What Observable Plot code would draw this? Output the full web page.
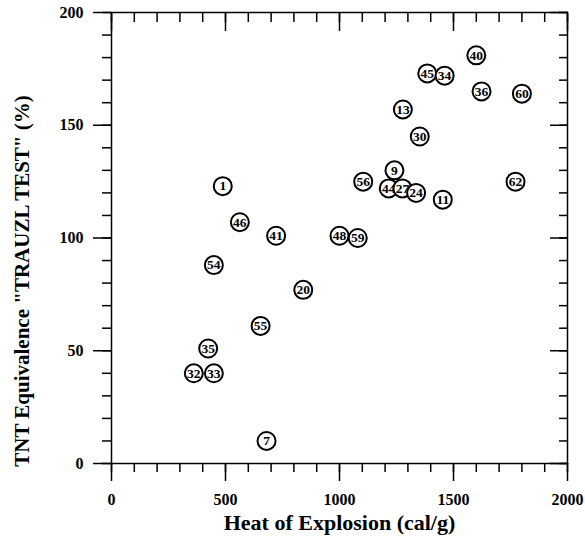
<!DOCTYPE html>
<html><head><meta charset="utf-8">
<script src="https://cdn.jsdelivr.net/npm/d3@7"></script>
<script src="https://cdn.jsdelivr.net/npm/@observablehq/plot@0.6"></script>
<style>
html,body{margin:0;padding:0;background:#fff;}
</style></head><body><div id="chart"></div>
<script>
const labels = ["1","46","41","54","20","55","35","32","33","7","48","59","56","44","9","27","24","11","30","13","45","34","40","36","60","62"];
const heat   = [488,563,722,449,841,654,424,361,449,680,1000,1080,1104,1216,1241,1276,1336,1453,1352,1278,1385,1461,1600,1623,1800,1772];
const tnt    = [123,107,101,88,77,61,51,40,40,10,101,100,125,122,130,122,120,117,145,157,173,172,181,165,164,125];

const xMajor = [0, 500, 1000, 1500, 2000];
const xMinor = d3.range(0, 2001, 100);
const yMajor = [0, 50, 100, 150, 200];
const yMinor = d3.range(0, 201, 10);
const xTitle = "Heat of Explosion (cal/g)";
const yTitle = "TNT Equivalence \"TRAUZL TEST\" (%)";

const serif = "'Liberation Serif', 'Times New Roman', serif";
const blank = () => "";
const plain = d => String(d);

const order = d3.range(labels.length).sort((a, b) => heat[a] - heat[b]);
const pointMarks = order.flatMap(i => [
  Plot.dot([i], {x: j => heat[j], y: j => tnt[j], r: 9, fill: "white", stroke: "black", strokeWidth: 2}),
  Plot.text([i], {x: j => heat[j], y: j => tnt[j], text: j => labels[j], fontSize: 13.5, fontWeight: "bold", fill: "black"})
]);

const chart = Plot.plot({
  width: 585,
  height: 540,
  marginLeft: 111,
  marginRight: 18,
  marginTop: 12,
  marginBottom: 77,
  style: {fontFamily: serif, background: "white", color: "black"},
  x: {domain: [0, 2000]},
  y: {domain: [0, 200]},
  marks: [
    Plot.frame({stroke: "black", strokeWidth: 1.5}),
    // bottom axis
    Plot.axisX(xMinor, {anchor: "bottom", tickSize: 9, tickFormat: blank, label: null, strokeWidth: 1.5}),
    Plot.axisX(xMajor, {anchor: "bottom", tickSize: 18, tickPadding: 12, tickFormat: plain, fontSize: 16, fontWeight: "bold", label: null, strokeWidth: 1.5}),
    // top axis (inward)
    Plot.axisX(xMinor, {anchor: "top", tickSize: -9, tickFormat: blank, label: null, strokeWidth: 1.5}),
    Plot.axisX(xMajor, {anchor: "top", tickSize: -18, tickFormat: blank, label: null, strokeWidth: 1.5}),
    // left axis
    Plot.axisY(yMinor, {anchor: "left", tickSize: 9, tickFormat: blank, label: null, strokeWidth: 1.5}),
    Plot.axisY(yMajor, {anchor: "left", tickSize: 18, tickPadding: 10, tickFormat: plain, fontSize: 16, fontWeight: "bold", label: null, strokeWidth: 1.5}),
    // right axis (inward)
    Plot.axisY(yMinor, {anchor: "right", tickSize: -9, tickFormat: blank, label: null, strokeWidth: 1.5}),
    Plot.axisY(yMajor, {anchor: "right", tickSize: -18, tickFormat: blank, label: null, strokeWidth: 1.5}),
    // axis titles
    Plot.text([xTitle], {text: d => d, frameAnchor: "bottom", textAnchor: "middle", lineAnchor: "middle", dy: 59, fontSize: 22, fontWeight: "bold", fill: "black"}),
    Plot.text([yTitle], {text: d => d, frameAnchor: "left", textAnchor: "middle", lineAnchor: "middle", rotate: -90, dx: -89, dy: 43, fontSize: 21, fontWeight: "bold", fill: "black"}),
    ...pointMarks
  ]
});
document.getElementById("chart").appendChild(chart);
</script>
</body></html>
